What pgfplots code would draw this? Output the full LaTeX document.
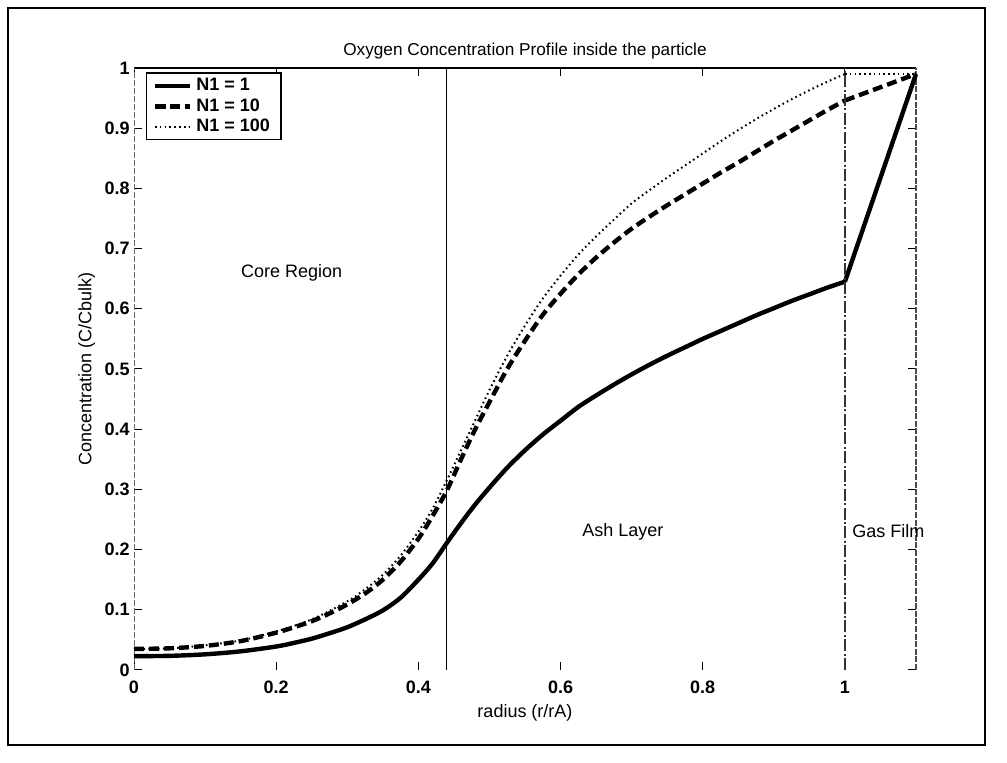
\documentclass[border=0pt]{standalone}
\usepackage{fontspec}
\setmainfont{Liberation Sans}
\usepackage{pgfplots}
\pgfplotsset{compat=1.18}
\begin{document}
\begin{tikzpicture}
\useasboundingbox (-67pt,-46.5pt) rectangle (436.5pt,335pt);
\draw[line width=1pt] (-63pt,-37.5pt) rectangle (425.5pt,331pt);
\begin{axis}[
  at={(0,0)}, anchor=south west,
  scale only axis, width=391pt, height=301pt,
  xmin=0, xmax=1.1, ymin=0, ymax=1,
  clip=false,
  axis line style={draw=none},
  xtick={0,0.2,0.4,0.6,0.8,1},
  ytick={0,0.1,0.2,0.3,0.4,0.5,0.6,0.7,0.8,0.9,1},
  tick align=inside, major tick length=4pt,
  tick style={black, line width=0.5pt},
  /pgf/number format/assume math mode=true,
  tick label style={font=\fontsize{9}{10}\selectfont\bfseries},
  xticklabel style={anchor=base, yshift=-12pt},
  yticklabel style={anchor=east, inner sep=0pt, xshift=-2pt},
  title={Oxygen Concentration Profile inside the particle},
  title style={font=\fontsize{8.6}{10}\selectfont, at={(axis description cs:0.5,1)}, anchor=base},
  xlabel={radius (r/rA)},
  xlabel style={font=\fontsize{9}{10}\selectfont, at={(axis description cs:0.5,0)}, anchor=base, yshift=-24pt},
  ylabel={Concentration (C/Cbulk)},
  ylabel style={font=\fontsize{9}{10}\selectfont, at={(axis description cs:-0.0604,0.5)}, anchor=center},
  legend cell align=left,
  legend style={at={(axis description cs:0.0154,0.993)}, anchor=north west,
    draw=black, line width=0.7pt, font=\fontsize{9}{10}\selectfont\bfseries,
    inner xsep=3pt, inner ysep=1.4pt, row sep=0pt,
    nodes={inner xsep=2.5pt, inner ysep=1.1pt, text height=6.5pt, text depth=1.5pt}},
]
% axis frame (as in the scan: top solid, left and right faint dashed)
\draw[black, line width=0.6pt] (rel axis cs:0,1) -- (rel axis cs:1,1);
\draw[black!60, line width=0.5pt, dash pattern=on 3pt off 1pt] (rel axis cs:0,0) -- (rel axis cs:0,1);
\draw[black!70, line width=0.6pt, dash pattern=on 3pt off 0.8pt] (rel axis cs:1,0) -- (rel axis cs:1,1);

\addplot[black, line width=2.2pt, smooth, tension=0.5] coordinates {
(0,0.023) (0.05,0.0235) (0.10,0.026) (0.15,0.031) (0.20,0.039) (0.225,0.045)
(0.25,0.052) (0.275,0.061) (0.30,0.071) (0.325,0.084) (0.35,0.099) (0.375,0.120)
(0.40,0.150) (0.42,0.177) (0.44,0.211) (0.46,0.244) (0.48,0.275) (0.50,0.303)
(0.525,0.336) (0.55,0.365) (0.575,0.391) (0.60,0.414) (0.625,0.437) (0.65,0.456)
(0.675,0.474) (0.70,0.491) (0.725,0.507) (0.75,0.522) (0.775,0.536) (0.80,0.550)
(0.825,0.563) (0.85,0.576) (0.875,0.589) (0.90,0.601) (0.925,0.613) (0.95,0.624)
(0.975,0.635) (1.00,0.645)};
\addlegendentry{N1 = 1}

\addplot[black, line width=2.2pt, dash pattern=on 5pt off 2.5pt, smooth, tension=0.5] coordinates {
(0,0.035) (0.05,0.036) (0.10,0.040) (0.15,0.048) (0.20,0.062) (0.225,0.071)
(0.25,0.081) (0.275,0.094) (0.30,0.109) (0.325,0.127) (0.35,0.150) (0.375,0.180)
(0.40,0.218) (0.42,0.256) (0.44,0.298) (0.46,0.350) (0.48,0.400) (0.50,0.445)
(0.525,0.500) (0.55,0.547) (0.575,0.590) (0.60,0.625) (0.625,0.657) (0.65,0.685)
(0.675,0.710) (0.70,0.733) (0.725,0.753) (0.75,0.772) (0.775,0.790) (0.80,0.808)
(0.825,0.826) (0.85,0.843) (0.875,0.861) (0.90,0.879) (0.925,0.896) (0.95,0.913)
(0.975,0.930) (1.00,0.946)};
\addlegendentry{N1 = 10}

\addplot[black, line width=1pt, dash pattern=on 0.8pt off 1.6pt, smooth, tension=0.5] coordinates {
(0,0.035) (0.05,0.036) (0.10,0.041) (0.15,0.049) (0.20,0.064) (0.25,0.084)
(0.30,0.114) (0.325,0.134) (0.35,0.158) (0.375,0.190) (0.40,0.230) (0.42,0.268)
(0.44,0.315) (0.46,0.365) (0.48,0.415) (0.50,0.465) (0.525,0.522) (0.55,0.572)
(0.575,0.617) (0.60,0.655) (0.625,0.690) (0.65,0.720) (0.675,0.748) (0.70,0.775)
(0.725,0.797) (0.75,0.818) (0.775,0.838) (0.80,0.858) (0.825,0.878) (0.85,0.897)
(0.875,0.915) (0.90,0.932) (0.925,0.948) (0.95,0.963) (0.975,0.977) (1.00,0.99)};
\addlegendentry{N1 = 100}

% gas film segments (straight)
\addplot[black, line width=2.2pt, forget plot] coordinates {(1.00,0.645) (1.10,0.99)};
\addplot[black, line width=2.2pt, dash pattern=on 5pt off 2.5pt, forget plot] coordinates {(1.00,0.946) (1.10,0.99)};
\addplot[black, line width=1pt, dash pattern=on 0.8pt off 1.6pt, forget plot] coordinates {(1.00,0.99) (1.10,0.99)};

% region boundaries
\addplot[black, line width=0.6pt, forget plot] coordinates {(0.44,0) (0.44,1)};
\addplot[black!80, line width=0.6pt, dash pattern=on 6pt off 1.2pt on 1pt off 1.2pt, forget plot] coordinates {(1,0) (1,1)};

\node[anchor=west, font=\fontsize{9}{10}\selectfont, inner sep=0pt] at (axis cs:0.15,0.66) {Core Region};
\node[anchor=west, font=\fontsize{9}{10}\selectfont, inner sep=0pt] at (axis cs:0.63,0.23) {Ash Layer};
\node[anchor=west, font=\fontsize{9}{10}\selectfont, inner sep=0pt] at (axis cs:1.01,0.23) {Gas Film};
\end{axis}
\end{tikzpicture}
\end{document}
